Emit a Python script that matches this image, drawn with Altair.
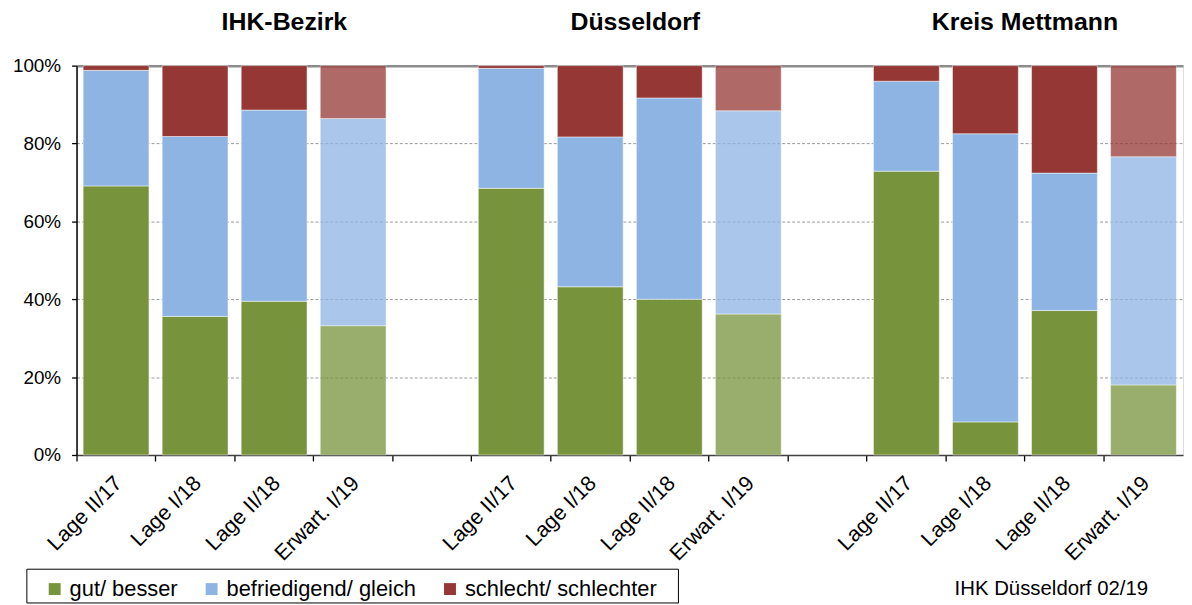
import altair as alt
import pandas as pd

# ---- data ----
groups = ["IHK-Bezirk", "Düsseldorf", "Kreis Mettmann"]
periods = ["Lage II/17", "Lage I/18", "Lage II/18", "Erwart. I/19"]
categories = ["gut/ besser", "befriedigend/ gleich", "schlecht/ schlechter"]
colors = ["#77933C", "#8EB4E3", "#953735"]

gut = [69.1, 35.6, 39.5, 33.2, 68.5, 43.2, 40.0, 36.2, 72.9, 8.5, 37.1, 18.0]
befriedigend = [29.7, 46.2, 49.1, 53.2, 30.8, 38.5, 51.7, 52.2, 23.1, 74.0, 35.3, 58.6]
schlecht = [1.2, 18.2, 11.4, 13.6, 0.7, 18.3, 8.3, 11.6, 4.0, 17.5, 27.6, 23.4]

source_note = "IHK Düsseldorf 02/19"

FONT = "Liberation Sans"

# ---- slot keys: 4 bars, gap, 4 bars, gap, 4 bars ----
keys = []
for gi, g in enumerate(groups):
    for p in periods:
        keys.append(f"{g}|{p}")
    if gi < len(groups) - 1:
        keys.append(f"gap{gi}")

series = [gut, befriedigend, schlecht]
rows = []
i = 0
for g in groups:
    for p in periods:
        for ci, cat in enumerate(categories):
            rows.append({
                "key": f"{g}|{p}",
                "cat": cat,
                "ord": ci,
                "value": series[ci][i],
                "erwart": p.startswith("Erwart"),
            })
        i += 1
df = pd.DataFrame(rows)

xscale = alt.Scale(domain=keys, paddingInner=0, paddingOuter=0)
x_axis = alt.Axis(
    bandPosition=0,
    labelExpr="indexof(datum.value, '|') >= 0 ? split(datum.value, '|')[1] : ''",
    labelAngle=-45, labelAlign="right", labelBaseline="middle",
    labelFont=FONT, labelFontSize=21.5, labelColor="#000000",
    labelPadding=19, labelOffset=3, labelOverlap=False, labelBound=False,
    labelLimit=300,
    domainColor="#404040", domainWidth=1.6,
    tickColor="#000000", tickSize=6, tickWidth=1.3,
    grid=False,
)

bars = alt.Chart(df).mark_bar(
    width=alt.RelativeBandSize(0.833),
    stroke="white", strokeWidth=0.8, strokeOpacity=0.6,
).encode(
    x=alt.X("key:N", scale=xscale, title=None, axis=x_axis),
    y=alt.Y("value:Q", stack="zero", title=None,
            scale=alt.Scale(domain=[0, 100], nice=False),
            axis=alt.Axis(
                values=[0, 20, 40, 60, 80, 100],
                labelExpr="datum.value + '%'",
                labelFont=FONT, labelFontSize=19, labelColor="#000000",
                labelPadding=11,
                domainColor="#000000", domainWidth=1.5,
                tickColor="#000000", tickSize=5, tickWidth=1.3,
                grid=True,
                gridColor={"condition": {"test": "datum.value >= 100", "value": "#8c8c8c"}, "value": "#9a9a9a"},
                gridWidth={"condition": {"test": "datum.value >= 100", "value": 2.5}, "value": 1},
                gridDash={"condition": {"test": "datum.value >= 100", "value": []}, "value": [3, 2]},
            )),
    color=alt.Color("cat:N",
                    scale=alt.Scale(domain=categories, range=colors),
                    legend=alt.Legend(
                        title=None, orient="none", direction="horizontal", columns=3,
                        legendX=-39, legendY=510, padding=6,
                        symbolType="square", symbolSize=144, symbolStrokeWidth=0,
                        symbolOpacity=1,
                        labelFont=FONT, labelFontSize=22, labelColor="#000000",
                        labelOffset=4, columnPadding=23, labelLimit=400,
                    )),
    order=alt.Order("ord:Q"),
    opacity=alt.condition("datum.erwart", alt.value(0.75), alt.value(1.0)),
)

# group titles
title_slots = [2, 7, 11]
title_bands = [0.63, 0.07, 1.0]
title_layers = []
for g, s, b in zip(groups, title_slots, title_bands):
    tdf = pd.DataFrame({"key": [keys[s]], "title": [g]})
    title_layers.append(
        alt.Chart(tdf).mark_text(
            font=FONT, fontSize=25, fontWeight="bold", color="#000000",
            align="center", baseline="alphabetic",
        ).encode(
            x=alt.X("key:N", scale=xscale, title=None, axis=x_axis, bandPosition=b),
            y=alt.value(-36),
            text="title:N",
        )
    )

# legend frame
frame = alt.Chart(pd.DataFrame({"a": [0]})).mark_rect(
    fill=None, stroke="#000000", strokeWidth=1
).encode(
    x=alt.value(-50), x2=alt.value(606), y=alt.value(507), y2=alt.value(541)
)

note = alt.Chart(pd.DataFrame({"t": [source_note]})).mark_text(
    font=FONT, fontSize=20.5, color="#000000", align="left", baseline="alphabetic"
).encode(
    x=alt.value(884), y=alt.value(533), text="t:N"
)

chart = alt.layer(bars, *title_layers, frame, note).properties(
    width=1114, height=392,
    padding={"left": 69, "top": 56, "right": 1, "bottom": 149},
    autosize=alt.AutoSizeParams(type="none"),
).configure_view(strokeWidth=0).configure(background="white")

chart.save("out.html", embed_options={"renderer": "svg", "actions": False})
